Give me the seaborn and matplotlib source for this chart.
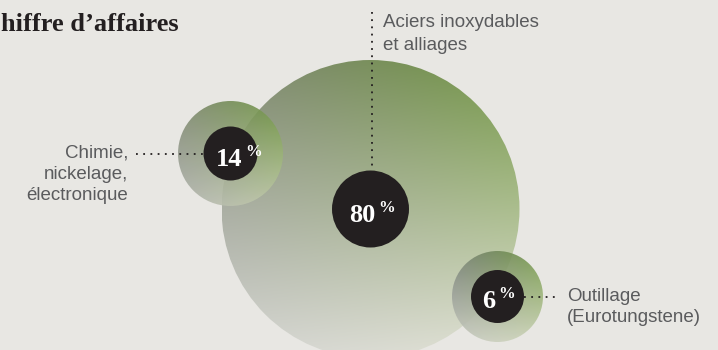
import numpy as np
import pandas as pd
import matplotlib
matplotlib.use("Agg")
import matplotlib.pyplot as plt
from matplotlib.patches import Circle
import seaborn as sns

# Share of turnover by business line
segments = ["Aciers inoxydables et alliages", "Chimie, nickelage, électronique", "Outillage (Eurotungstene)"]
shares = [80, 14, 6]
label_lines = [["Aciers inoxydables", "et alliages"],
               ["Chimie,", "nickelage,", "électronique"],
               ["Outillage", "(Eurotungstene)"]]
title = "Chiffre d\u2019affaires"

# Layout (pixel space, y downwards)
centers = [(370.5, 209.0), (230.5, 153.5), (497.5, 296.5)]
halo_radius = [149.0, 52.5, 45.5]
dot_radius = [38.5, 27.0, 26.5]

BG = "#e8e7e3"
INK = "#231f20"
GREY_TXT = "#5a5b5d"

sns.set_theme(style="white", rc={"figure.facecolor": BG, "axes.facecolor": BG})

fig = plt.figure(figsize=(7.18, 3.5), dpi=100)
ax = fig.add_axes([0, 0, 1, 1])
ax.set_facecolor(BG)


def bilinear(tl, tr, bl, br, n=200):
    u = np.linspace(0, 1, n)[None, :, None]
    v = np.linspace(0, 1, n)[:, None, None]
    tl, tr, bl, br = (np.array(c, float)[None, None, :] / 255 for c in (tl, tr, bl, br))
    top = tl * (1 - u) + tr * u
    bot = bl * (1 - u) + br * u
    return top * (1 - v) + bot * v


halo_colours = [
    ((128, 136, 116), (116, 152, 70), (214, 214, 212), (226, 227, 214)),
    ((122, 132, 108), (112, 150, 66), (178, 180, 176), (196, 206, 172)),
    ((118, 126, 118), (112, 150, 66), (200, 202, 194), (206, 214, 184)),
]
halo_alpha = [1.0, 0.9, 0.9]

for (cx, cy), r, cols, a in zip(centers, halo_radius, halo_colours, halo_alpha):
    img = bilinear(*cols)
    rgba = np.concatenate([img, np.full(img.shape[:2] + (1,), a)], axis=2)
    im = ax.imshow(rgba, extent=(cx - r, cx + r, cy + r, cy - r), origin="upper",
                   interpolation="bilinear", aspect="auto", zorder=1)
    clip = Circle((cx, cy), r, transform=ax.transData, facecolor="none", edgecolor="none")
    ax.add_patch(clip)
    im.set_clip_path(clip)

# Dark discs carrying the percentages
df = pd.DataFrame({
    "segment": segments,
    "share": shares,
    "x": [c[0] for c in centers],
    "y": [c[1] for c in centers],
})
size_map = {s: (2 * r * 0.72) ** 2 for s, r in zip(shares, dot_radius)}
sns.scatterplot(data=df, x="x", y="y", size="share", sizes=size_map,
                color=INK, linewidth=0, legend=False, ax=ax, zorder=5)
ax.set_xlim(0, 718)
ax.set_ylim(350, 0)
ax.axis("off")

# Percent labels
num_right = [375.5, 242.5, 495.5]
num_base = [222.0, 166.0, 308.0]
for s, xr, yb in zip(shares, num_right, num_base):
    ax.text(xr, yb, f"{s}", ha="right", va="baseline", color="white",
            family="Liberation Serif", weight="bold", fontsize=19, zorder=6)
    ax.text(xr + 3, yb - 10, "%", ha="left", va="baseline", color="white",
            family="Liberation Serif", weight="bold", fontsize=12, zorder=6)

# Leader lines
dots = dict(color=INK, lw=1.3, linestyle=(0, (1, 3)), zorder=4)
ax.plot([371.5, 371.5], [12, 170], **dots)
ax.plot([136, 203], [154, 154], **dots)
ax.plot([524, 557], [297, 297], **dots)

# Segment names
lab = dict(color=GREY_TXT, family="Liberation Sans", fontsize=13.5, va="baseline", zorder=6)
for i, line in enumerate(label_lines[0]):
    ax.text(383, 27 + 23 * i, line, ha="left", **lab)
for i, line in enumerate(label_lines[1]):
    ax.text(128, 158 + 21 * i, line, ha="right", **lab)
for i, line in enumerate(label_lines[2]):
    ax.text(567, 301 + 21 * i, line, ha="left", **lab)

# Title, its first letter running off the left edge
title_style = dict(va="baseline", color=INK, family="Liberation Serif",
                   weight="bold", fontsize=19, zorder=6)
probe = ax.text(0, 31, title[0], ha="left", **title_style)
fig.canvas.draw()
lead = probe.get_window_extent(renderer=fig.canvas.get_renderer()).width
probe.remove()
ax.text(-lead + 0.5, 31, title, ha="left", **title_style)

fig.savefig("out.png", dpi=100, facecolor=BG)
